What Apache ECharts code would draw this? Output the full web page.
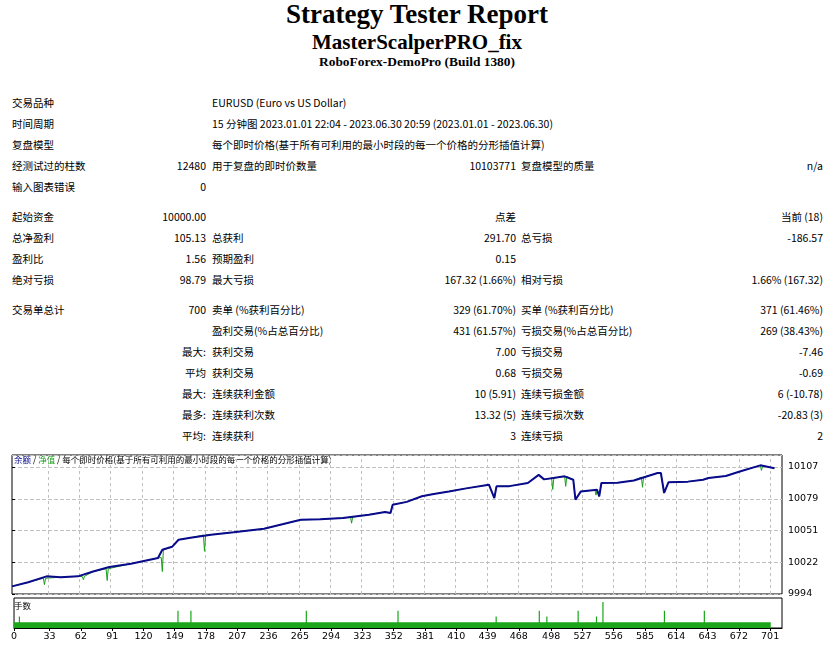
<!DOCTYPE html>
<html><head><meta charset="utf-8">
<script src="https://cdn.jsdelivr.net/npm/echarts@6/dist/echarts.min.js"></script>
<style>
body{margin:0;width:834px;height:646px;background:#fff;position:relative;overflow:hidden;font-family:"Noto Sans CJK SC","DejaVu Sans",sans-serif;font-size:10.5px;color:#000}
.t{position:absolute;white-space:nowrap;line-height:14px}
.r{text-align:right}
#hd1,#hd2,#hd3{position:absolute;left:0;width:834px;text-align:center;font-family:"Liberation Serif",serif;font-weight:bold}
#chart{position:absolute;left:8px;top:452px;width:826px;height:194px}
</style></head><body>
<div id="hd1" style="top:-1px;font-size:27px">Strategy Tester Report</div>
<div id="hd2" style="top:30px;font-size:21px">MasterScalperPRO_fix</div>
<div id="hd3" style="top:54px;font-size:13.4px">RoboForex-DemoPro (Build 1380)</div>
<div id="tbl"></div>
<div id="chart"></div>
<script>
const rows = [
 [96, [["交易品种",12,"l"],["EURUSD (Euro vs US Dollar)",212,"l"]]],
 [117,[["时间周期",12,"l"],["15 分钟图 2023.01.01 22:04 - 2023.06.30 20:59 (2023.01.01 - 2023.06.30)",212,"l"]]],
 [138,[["复盘模型",12,"l"],["每个即时价格(基于所有可利用的最小时段的每一个价格的分形插值计算)",212,"l"]]],
 [159,[["经测试过的柱数",12,"l"],["12480",206,"r"],["用于复盘的即时价数量",212,"l"],["10103771",516,"r"],["复盘模型的质量",521,"l"],["n/a",823,"r"]]],
 [180,[["输入图表错误",12,"l"],["0",206,"r"]]],
 [210,[["起始资金",12,"l"],["10000.00",206,"r"],["点差",516,"r"],["当前 (18)",823,"r"]]],
 [231,[["总净盈利",12,"l"],["105.13",206,"r"],["总获利",212,"l"],["291.70",516,"r"],["总亏损",521,"l"],["-186.57",823,"r"]]],
 [252,[["盈利比",12,"l"],["1.56",206,"r"],["预期盈利",212,"l"],["0.15",516,"r"]]],
 [273,[["绝对亏损",12,"l"],["98.79",206,"r"],["最大亏损",212,"l"],["167.32 (1.66%)",516,"r"],["相对亏损",521,"l"],["1.66% (167.32)",823,"r"]]],
 [303,[["交易单总计",12,"l"],["700",206,"r"],["卖单 (%获利百分比)",212,"l"],["329 (61.70%)",516,"r"],["买单 (%获利百分比)",521,"l"],["371 (61.46%)",823,"r"]]],
 [324,[["盈利交易(%占总百分比)",212,"l"],["431 (61.57%)",516,"r"],["亏损交易(%占总百分比)",521,"l"],["269 (38.43%)",823,"r"]]],
 [345,[["最大:",206,"r"],["获利交易",212,"l"],["7.00",516,"r"],["亏损交易",521,"l"],["-7.46",823,"r"]]],
 [366,[["平均",206,"r"],["获利交易",212,"l"],["0.68",516,"r"],["亏损交易",521,"l"],["-0.69",823,"r"]]],
 [387,[["最大:",206,"r"],["连续获利金额",212,"l"],["10 (5.91)",516,"r"],["连续亏损金额",521,"l"],["6 (-10.78)",823,"r"]]],
 [408,[["最多:",206,"r"],["连续获利次数",212,"l"],["13.32 (5)",516,"r"],["连续亏损次数",521,"l"],["-20.83 (3)",823,"r"]]],
 [429,[["平均:",206,"r"],["连续获利",212,"l"],["3",516,"r"],["连续亏损",521,"l"],["2",823,"r"]]]
];
let h='';
rows.forEach(([y,cells])=>cells.forEach(([txt,x,a])=>{
  if(a==='l') h+=`<div class="t" style="top:${y}px;left:${x}px">${txt}</div>`;
  else h+=`<div class="t r" style="top:${y}px;right:${834-x}px">${txt}</div>`;
}));
document.getElementById('tbl').innerHTML=h;

const balanceTrades = [0,15,32,45,61,75,90,110,135,139,148,154,165,184,205,233,250,267,285,306,330,345,350,352,365,379,390,404,420,441,446,448,460,477,487,492,511,519,521,526,541,543,545,560,575,597,600,603,607,625,639,644,660,673,692,705];
const balanceValues = [10000.8,10004.5,10009.7,10009,10009.7,10014,10018,10021,10026,10033.4,10036,10042.3,10044,10046.8,10049,10052,10056,10060,10060.5,10061.6,10064.6,10067,10066,10073.5,10076,10081,10083,10085.3,10088,10091.3,10079.4,10089.8,10090,10092.8,10100,10096,10098.7,10095.7,10077.9,10085.3,10086.8,10080.9,10092.8,10093,10095,10101.7,10101.7,10083.9,10093.4,10094,10095.7,10097.2,10099,10103,10108.5,10106];
const equityTrades = [0,15,29,30,31,32,45,61,65,66,67,75,87,88,89,90,110,135,138,139,140,148,154,165,177,178,179,184,205,233,250,267,285,306,313,314,315,330,345,350,352,365,379,390,404,420,441,446,448,460,477,487,492,499,500,501,511,512,513,519,521,526,539,540,541,543,545,560,575,582,583,584,597,600,603,607,625,639,644,660,673,692,693,694,705];
const equityValues = [10000.8,10004.5,10008,10002.3,10008,10009.7,10009,10009.7,10009.5,10006.8,10009.7,10014,10016.5,10006,10016.5,10018,10021,10026,10026.5,10014,10033.4,10036,10042.3,10044,10046.5,10032,10046.5,10046.8,10049,10052,10056,10060,10060.5,10061.6,10062.5,10057,10062.5,10064.6,10067,10066,10073.5,10076,10081,10083,10085.3,10088,10091.3,10079.4,10089.8,10090,10092.8,10100,10096,10097,10087,10097,10098.7,10089.8,10098.7,10095.7,10077.9,10085.3,10086.5,10082,10086.8,10080.9,10092.8,10093,10095,10098,10089,10098,10101.7,10101.7,10083.9,10093.4,10094,10095.7,10097.2,10099,10103,10108.5,10104,10108,10106];
const baseLot = 0.01;
const spikeTrades = [5,152,164,271,356,447,487,494,523,540,546,603,640];
const spikeLots   = [0.02,0.03,0.03,0.03,0.03,0.02,0.03,0.02,0.03,0.02,0.045,0.03,0.03];
const xTickLabels = [0,33,62,91,120,149,178,207,236,265,294,323,352,381,410,439,468,498,527,556,585,614,643,672,701];

const Y0=9994, Y1=10117.7;
const lots=[];
for(let i=0;i<=701;i++){const k=spikeTrades.indexOf(i);lots.push([i,k>=0?spikeLots[k]:baseLot]);}
const bal=balanceTrades.map((t,i)=>[t,balanceValues[i]]);
const eq=equityTrades.map((t,i)=>[t,equityValues[i]]);

const c=echarts.init(document.getElementById('chart'));
const dash=()=>({color:'#c0c0c0',type:'dashed',width:1});
const lblFont={fontFamily:'DejaVu Sans',fontSize:9.5,color:'#000'};
c.setOption({
 animation:false,
 grid:[{left:4,right:52,top:3,height:139,show:true,borderColor:'#000',borderWidth:1},
       {left:4,right:52,top:146,height:30,show:true,borderColor:'#000',borderWidth:1}],
 xAxis:[{type:'value',gridIndex:0,min:0,max:712,axisLine:{show:false},
         axisTick:{show:false},axisLabel:{show:false},splitLine:{show:false}},
        {type:'value',gridIndex:1,min:0,max:712,axisLine:{show:true,lineStyle:{color:'#000'}},
         axisTick:{show:true,customValues:xTickLabels,length:3,lineStyle:{color:'#000'}},
         axisLabel:Object.assign({customValues:xTickLabels,margin:4},lblFont),splitLine:{show:false}}],
 yAxis:[{type:'value',gridIndex:0,position:'right',min:Y0,max:Y1,interval:28.25,
         axisLine:{show:false},axisTick:{show:true,length:3,lineStyle:{color:'#000'}},
         axisLabel:Object.assign({formatter:v=>Math.round(v),margin:6,showMaxLabel:false},lblFont),splitLine:{show:true,lineStyle:dash()}},
        {type:'value',gridIndex:1,min:0,max:0.052,axisLine:{show:false},axisTick:{show:false},axisLabel:{show:false},splitLine:{show:false}}],
 series:[
  {type:'custom',xAxisIndex:0,yAxisIndex:0,silent:true,z:1,
   data:xTickLabels.slice(1).map(v=>[v]),
   renderItem:(params,api)=>{
     const p0=api.coord([api.value(0),Y0]), p1=api.coord([api.value(0),Y1]);
     const x=Math.round(p0[0])+0.5;
     return {type:'line',shape:{x1:x,y1:p0[1],x2:x,y2:p1[1]},
       style:{stroke:'#c0c0c0',lineWidth:1,lineDash:[3,3]}};
   }},
  {type:'line',xAxisIndex:0,yAxisIndex:0,data:eq,symbol:'none',lineStyle:{color:'#1a9e1a',width:1},z:2},
  {type:'line',xAxisIndex:0,yAxisIndex:0,data:bal,symbol:'none',lineStyle:{color:'#0a0a8c',width:2},z:3},
  {type:'bar',xAxisIndex:1,yAxisIndex:1,data:lots,barWidth:1.2,itemStyle:{color:'#1aa51a'},large:true}
 ],
 graphic:[
  {type:'text',left:6,top:4,style:{rich:{b:{fill:'#0a0a8c'},g:{fill:'#1a9e1a'},k:{fill:'#000'}},
    text:'{b|余额} {k|/} {g|净值} {k|/ 每个即时价格(基于所有可利用的最小时段的每一个价格的分形插值计算)}',
    font:'8.5px "Noto Sans CJK SC"'}},
  {type:'text',left:6,top:150,style:{text:'手数',font:'8.5px "Noto Sans CJK SC"',fill:'#000'}}
 ]
});
</script></body></html>
